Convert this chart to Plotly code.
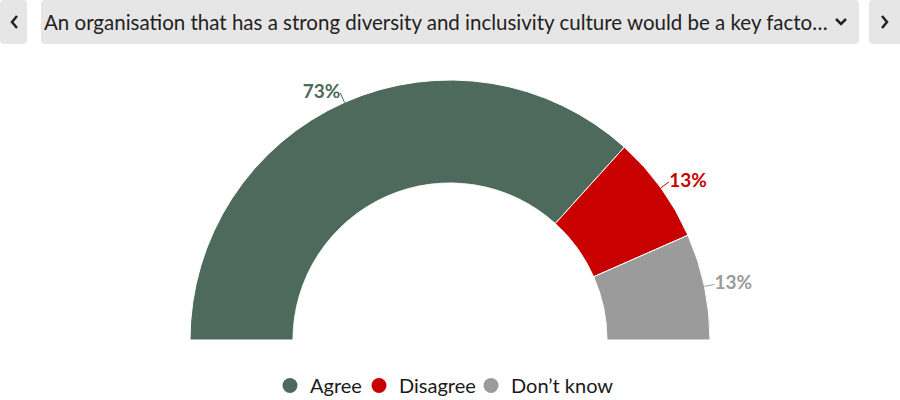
import plotly.graph_objects as go

# ---- data ----
categories = ["Agree", "Disagree", "Don\u2019t know"]
values = [73.4, 13.4, 13.2]
colors = ["#4d6a5c", "#c80000", "#9b9b9b"]
header_text = "An organisation that has a strong diversity and inclusivity culture would be a key facto\u2026"

W, H = 900, 400
FONT = "Lato, 'Open Sans', sans-serif"

total = sum(values)
spans = [v / total * 180 for v in values]
starts = [sum(spans[:i]) for i in range(len(spans))]
mids = [s + w / 2 for s, w in zip(starts, spans)]

fig = go.Figure()

# slices
for cat, sp, md, col in zip(categories, spans, mids, colors):
    fig.add_trace(go.Barpolar(
        r=[1], theta=[md], width=[sp], base=0,
        marker=dict(color=col, line=dict(color="white", width=1)),
        name=cat, showlegend=False, hoverinfo="skip",
    ))

# leader lines + labels
for i, (cat, v, md, col) in enumerate(zip(categories, values, mids, colors)):
    fig.add_trace(go.Scatterpolar(
        r=[1.0, 1.1], theta=[md, md], mode="lines",
        line=dict(color=col, width=1), showlegend=False, hoverinfo="skip",
    ))
    fig.add_trace(go.Scatterpolar(
        r=[1.1], theta=[md], mode="text",
        text=[f"{round(v)}%"],
        textposition="middle left" if md < 90 else "middle right",
        textfont=dict(family=FONT, size=19, color=col, weight="bold"),
        cliponaxis=False, showlegend=False, hoverinfo="skip",
    ))

# legend entries (one small legend per entry, to control spacing)
legend_names = ["legend", "legend2", "legend3"]
legend_cx = [290, 379, 491]
for cat, col, lg in zip(categories, colors, legend_names):
    fig.add_trace(go.Scatterpolar(
        r=[None], theta=[None], mode="markers", name=cat,
        marker=dict(color=col, size=15, symbol="circle"),
        showlegend=True, legend=lg,
    ))

# polar geometry: centre (450,340) px, outer bar radius 260 px, hole 157 px
R_full = 157 + (260 - 157) * 1.1
cx, cy = 450, 340
dom_x = [(cx - R_full) / W, (cx + R_full) / W]
dom_y = [(H - cy) / H, (H - cy + R_full) / H]

layout_legends = {}
for lg, lx in zip(legend_names, legend_cx):
    layout_legends[lg] = dict(
        orientation="h", x=(lx - 20) / W, xanchor="left", y=-5 / H, yanchor="bottom",
        font=dict(family=FONT, size=20, color="#1a1a1a"),
        itemclick=False, itemdoubleclick=False, bgcolor="rgba(0,0,0,0)",
    )

fig.update_layout(
    width=W, height=H,
    margin=dict(l=0, r=0, t=0, b=0, autoexpand=False),
    paper_bgcolor="white",
    font=dict(family=FONT, color="#222222"),
    polar=dict(
        domain=dict(x=dom_x, y=dom_y),
        sector=[0, 180],
        hole=157 / R_full,
        bgcolor="white",
        angularaxis=dict(visible=False, direction="clockwise", rotation=180,
                         thetaunit="degrees"),
        radialaxis=dict(visible=False, range=[0, 1.1]),
    ),
    showlegend=True,
    **layout_legends,
)


def rrect(x0, y0, x1, y1, r):
    # pixel coords (y from top) -> paper path with rounded corners
    def P(x, y):
        return f"{x / W:.5f},{(H - y) / H:.5f}"
    return (f"M {P(x0 + r, y0)} L {P(x1 - r, y0)} Q {P(x1, y0)} {P(x1, y0 + r)} "
            f"L {P(x1, y1 - r)} Q {P(x1, y1)} {P(x1 - r, y1)} L {P(x0 + r, y1)} "
            f"Q {P(x0, y1)} {P(x0, y1 - r)} L {P(x0, y0 + r)} Q {P(x0, y0)} {P(x0 + r, y0)} Z")


def pline(pts):
    return "M " + " L ".join(f"{x / W:.5f},{(H - y) / H:.5f}" for x, y in pts)


shapes = []
for box in [(0, 0, 27, 44), (41, 0, 859, 44), (869, 0, 904, 44)]:
    shapes.append(dict(type="path", xref="paper", yref="paper", path=rrect(*box, 4),
                       fillcolor="#e6e6e6", line=dict(width=0), layer="below"))
for pts in [[(17, 16), (12, 22), (17, 28)],
            [(836, 19), (841, 24), (846, 19)],
            [(882, 16), (887, 22), (882, 28)]]:
    shapes.append(dict(type="path", xref="paper", yref="paper", path=pline(pts),
                       line=dict(color="#222222", width=2.5)))
fig.update_layout(shapes=shapes)

fig.add_annotation(
    x=42 / W, y=(H - 22) / H, xref="paper", yref="paper",
    xanchor="left", yanchor="middle", showarrow=False,
    text=header_text, font=dict(family=FONT, size=20.5, color="#222222"),
)

fig.write_html(
    "out.html",
    config={"displayModeBar": False},
    post_script="document.body.style.margin='0';document.body.style.overflow='hidden';",
)
